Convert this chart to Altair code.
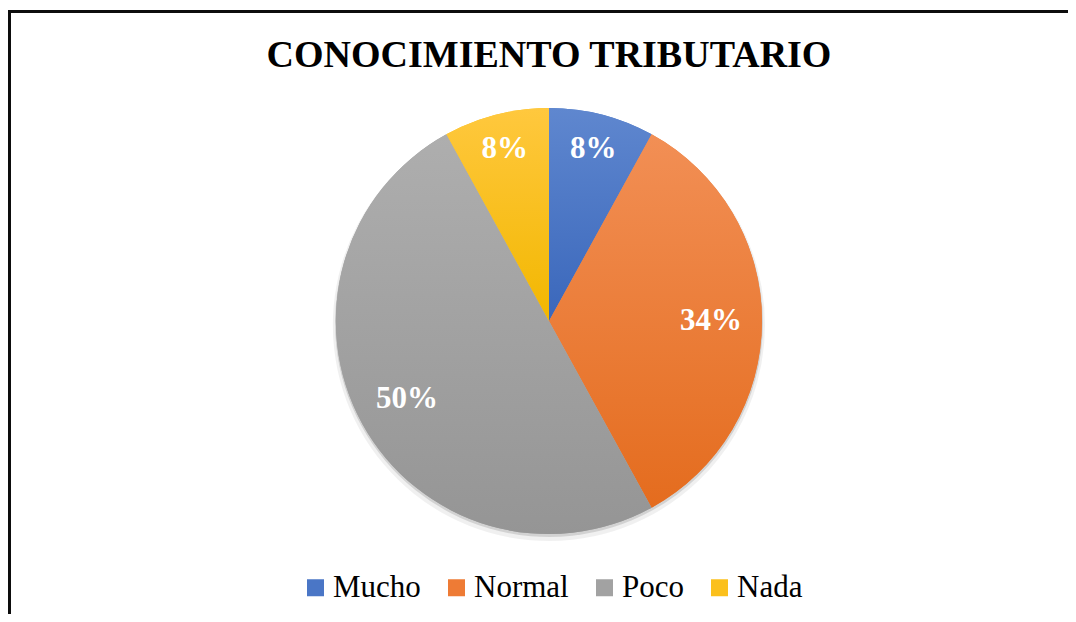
import altair as alt
import pandas as pd

categories = ["Mucho", "Normal", "Poco", "Nada"]
values = [8, 34, 50, 8]
labels = ["8%", "34%", "50%", "8%"]

grad_top = ["#5F87CF", "#F28F55", "#AEAEAE", "#FFC83E"]
grad_bottom = ["#3A67BB", "#E46C1E", "#959595", "#F2B700"]
legend_colors = ["#4A76C6", "#EE7B35", "#A2A2A2", "#FBC01C"]

df = pd.DataFrame({
    "cat": categories,
    "value": values,
    "label": labels,
    "order": list(range(len(categories))),
})

FONT = "Liberation Serif"
CX, CY, R = 541, 233, 213

base = alt.Chart(df).transform_window(
    cum="sum(value)", sort=[alt.SortField("order")]
).transform_calculate(
    start="datum.cum - datum.value",
    mid="datum.cum - datum.value / 2",
    lr="datum.value < 15 ? 178 : 162",
)

theta = alt.Theta("start:Q", scale=alt.Scale(domain=[0, 100]))
theta2 = alt.Theta2("cum:Q")

shadow1 = base.mark_arc(radius=R + 3, fill="#000000", opacity=0.06).encode(
    theta=theta, theta2=theta2, x=alt.value(CX), y=alt.value(CY + 4)
)
shadow2 = base.mark_arc(radius=R + 1, fill="#000000", opacity=0.12).encode(
    theta=theta, theta2=theta2, x=alt.value(CX), y=alt.value(CY + 2)
)

legend_layer = base.mark_arc(radius=R).encode(
    theta=theta,
    theta2=theta2,
    x=alt.value(CX),
    y=alt.value(CY),
    color=alt.Color(
        "cat:N",
        scale=alt.Scale(domain=categories, range=legend_colors),
        legend=alt.Legend(
            title=None,
            orient="none",
            legendX=292,
            legendY=484,
            direction="horizontal",
        ),
    ),
)

slice_layers = []
for c, t, b in zip(categories, grad_top, grad_bottom):
    g = alt.LinearGradient(
        gradient="linear",
        stops=[alt.GradientStop(color=t, offset=0), alt.GradientStop(color=b, offset=1)],
        x1=0, x2=0, y1=0, y2=1,
    )
    slice_layers.append(
        base.transform_filter(alt.datum.cat == c)
        .mark_arc(radius=R, fill=g, strokeWidth=0)
        .encode(theta=theta, theta2=theta2, x=alt.value(CX), y=alt.value(CY))
    )

text_layer = base.mark_text(
    font=FONT, fontSize=31, fontWeight="bold", color="#FFFFFF", baseline="middle", align="center"
).encode(
    theta=alt.Theta("mid:Q"),
    radius=alt.Radius("lr:Q", scale=None),
    x=alt.value(CX),
    y=alt.value(CY),
    text="label:N",
)

frame_top = alt.Chart(df).mark_rule(color="#0d0d0d", strokeWidth=3).encode(
    x=alt.value(0), x2=alt.value(1070), y=alt.value(-76.5)
)
frame_left = alt.Chart(df).mark_rule(color="#0d0d0d", strokeWidth=3).encode(
    x=alt.value(1.5), y=alt.value(-78), y2=alt.value(530)
)

chart = alt.layer(
    shadow1, shadow2, legend_layer, *slice_layers, text_layer, frame_top, frame_left
).properties(
    width=1060,
    height=526,
    padding={"left": 0, "top": 80, "right": 0, "bottom": 0},
    autosize=alt.AutoSizeParams(type="none"),
    background="#FFFFFF",
    title=alt.TitleParams(
        text="CONOCIMIENTO TRIBUTARIO",
        font=FONT,
        fontSize=38,
        fontWeight="bold",
        color="#000000",
        anchor="middle",
        frame="group",
        dx=11,
        dy=86,
        offset=20,
    ),
).configure_view(
    stroke=None
).configure_legend(
    labelFont=FONT,
    labelFontSize=31,
    labelColor="#000000",
    labelOffset=2,
    labelLimit=0,
    symbolType="square",
    symbolSize=289,
    symbolStrokeWidth=0,
    symbolOpacity=1,
    columnPadding=20,
    padding=0,
)

chart.save("out.html", embed_options={"renderer": "svg", "actions": False})
